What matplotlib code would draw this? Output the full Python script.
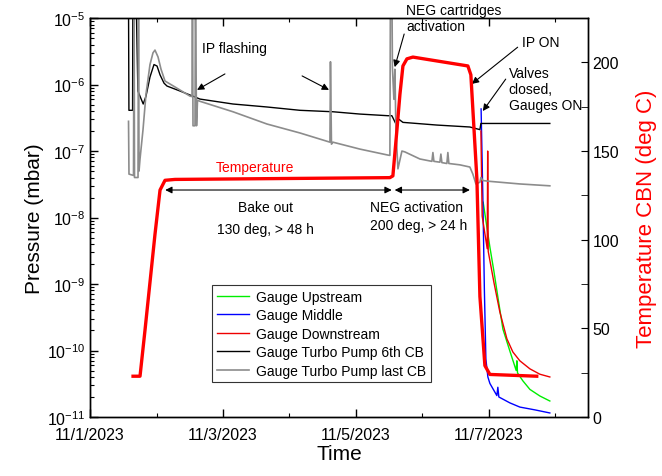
import matplotlib
matplotlib.use('Agg')
import matplotlib.pyplot as plt
from matplotlib.ticker import MultipleLocator, LogLocator, NullFormatter
import numpy as np

plt.rcParams['font.family'] = ['Liberation Sans', 'DejaVu Sans']
plt.rcParams['mathtext.default'] = 'regular'

# time in days since 11/1/2023 00:00
temp_t = [0.647, 0.752, 0.827, 0.902, 0.977, 1.053, 1.128, 1.278, 4.511, 4.556,
          4.617, 4.662, 4.707, 4.767, 4.857, 5.684, 5.729, 5.820, 5.865, 5.940,
          6.015, 6.720]
temp_v = [23, 23, 49, 76, 103, 128, 133.5, 134, 135, 136,
          162, 182, 198, 202, 203, 198, 193, 134, 68, 29,
          24, 23]

black_t = [0.578, 0.585, 0.640, 0.645, 0.690, 0.720, 0.800, 0.842, 0.902, 0.962,
           1.008, 1.053, 1.113, 1.158, 1.353, 1.579, 1.654, 2.150, 2.662, 3.158,
           3.654, 4.060, 4.481, 4.541, 4.602, 4.647, 4.707, 5.218, 5.714, 5.865,
           5.880, 6.917]
black_p = [3e-5, 4.1e-7, 4.1e-7, 3e-5, 3e-5, 8e-7, 5.1e-7, 6.7e-7, 1.3e-6, 2.0e-6,
           1.9e-6, 1.4e-6, 1.05e-6, 9.5e-7, 8.0e-7, 6.5e-7, 6.05e-7, 5.1e-7, 4.6e-7, 4.1e-7,
           3.9e-7, 3.6e-7, 3.4e-7, 3.4e-7, 2.55e-7, 3.0e-7, 2.7e-7, 2.46e-7, 2.3e-7, 2.1e-7,
           2.6e-7, 2.6e-7]

gray_t = [0.579, 0.586, 0.654, 0.662, 0.669, 0.722, 0.729, 0.737, 0.752, 0.797,
          0.842, 0.902, 0.947, 0.977, 1.023, 1.068, 1.128, 1.278, 1.504, 1.534,
          1.541, 1.549, 1.579, 1.586, 1.602, 1.617, 1.654, 2.150, 2.662, 3.158,
          3.609, 3.617, 3.632, 3.654, 4.060, 4.481, 4.511, 4.519, 4.541, 4.549,
          4.571, 4.586, 4.602, 4.632, 4.692, 4.737, 4.962, 5.143, 5.158, 5.173,
          5.263, 5.278, 5.293, 5.368, 5.383, 5.398, 5.564, 5.714, 5.759, 5.805,
          5.865, 5.880, 5.910, 6.015, 6.466, 6.917]
gray_p = [2.8e-7, 4.5e-8, 4.3e-8, 3e-5, 4.0e-8, 4.0e-8, 3e-5, 5e-8, 7.6e-8, 2.1e-7,
          7.2e-7, 2.0e-6, 3.0e-6, 3.3e-6, 2.6e-6, 1.7e-6, 1.13e-6, 9.2e-7, 6.7e-7, 6.6e-7,
          3e-5, 2.4e-7, 2.4e-7, 3e-5, 2.4e-7, 5.8e-7, 5.6e-7, 3.9e-7, 2.55e-7, 1.87e-7,
          1.36e-7, 2.2e-6, 1.27e-7, 1.36e-7, 1.07e-7, 8.7e-8, 8.6e-8, 3e-5, 3e-5, 1.8e-6,
          6e-7, 1.7e-6, 2.0e-7, 5.4e-8, 1.0e-7, 9.7e-8, 7.6e-8, 7.0e-8, 9.5e-8, 7.0e-8,
          6.8e-8, 9.0e-8, 6.7e-8, 6.5e-8, 9.5e-8, 6.5e-8, 6.2e-8, 5.75e-8, 4.5e-8, 3.2e-8,
          3.4e-8, 4.0e-8, 3.6e-8, 3.5e-8, 3.2e-8, 3.0e-8]

up_t = [5.914, 5.970, 6.015, 6.075, 6.135, 6.211, 6.316, 6.411, 6.421, 6.431,
        6.511, 6.617, 6.767, 6.917]
up_p = [1.7e-8, 7.2e-9, 3.6e-9, 1.57e-9, 6.4e-10, 2.1e-10, 9.8e-11, 5.0e-11, 7.0e-11, 4.6e-11,
        3.5e-11, 2.6e-11, 2.07e-11, 1.74e-11]

mid_t = [5.883, 5.910, 5.932, 5.955, 5.985, 6.015, 6.120, 6.135, 6.150, 6.316,
         6.466, 6.692, 6.917]
mid_p = [4.3e-7, 1.9e-8, 8.5e-10, 7.4e-11, 4.0e-11, 3.2e-11, 2.1e-11, 2.8e-11, 2.0e-11, 1.63e-11,
         1.41e-11, 1.28e-11, 1.15e-11]

down_t = [5.880, 5.899, 5.975, 5.982, 5.990, 6.075, 6.165, 6.271, 6.361, 6.466,
          6.617, 6.767, 6.917]
down_p = [2.0e-7, 1.05e-8, 3.4e-9, 1.0e-7, 3.1e-9, 1.07e-9, 3.8e-10, 1.5e-10, 9.5e-11, 7e-11,
          5.3e-11, 4.4e-11, 4.0e-11]

xtick_pos = [0, 2, 4, 6]
xtick_labels = ['11/1/2023', '11/3/2023', '11/5/2023', '11/7/2023']

fig = plt.figure(figsize=(6.62, 4.77), dpi=100)
ax = fig.add_axes([0.136, 0.1237, 0.752, 0.8363])

ax.plot(up_t, up_p, color='#00ee00', lw=1.0, label='Gauge Upstream')
ax.plot(mid_t, mid_p, color='#0000ff', lw=1.0, label='Gauge Middle')
ax.plot(down_t, down_p, color='#ee0000', lw=1.0, label='Gauge Downstream')
ax.plot(black_t, black_p, color='black', lw=1.0, label='Gauge Turbo Pump 6th CB')
ax.plot(gray_t, gray_p, color='#8c8c8c', lw=1.2, label='Gauge Turbo Pump last CB')

ax.set_yscale('log')
ax.set_ylim(1e-11, 1e-5)
ax.set_xlim(0, 7.489)
ax.set_xticks(xtick_pos)
ax.set_xticklabels(xtick_labels)
ax.xaxis.set_minor_locator(MultipleLocator(1))
ax.yaxis.set_major_locator(LogLocator(base=10, numticks=20))
ax.yaxis.set_minor_locator(LogLocator(base=10, subs=np.arange(2, 10), numticks=20))
ax.yaxis.set_minor_formatter(NullFormatter())
ax.tick_params(axis='both', which='both', direction='in', labelsize=11.5)
ax.tick_params(axis='x', which='both', top=True)
ax.tick_params(axis='x', which='major', pad=7)
ax.tick_params(which='major', length=6, width=1)
ax.tick_params(which='minor', length=3, width=0.8)
ax.set_xlabel('Time', fontsize=15, labelpad=2)
ax.set_ylabel('Pressure (mbar)', fontsize=15, labelpad=2)

leg = ax.legend(loc='upper left', bbox_to_anchor=(0.245, 0.331), fontsize=10,
                fancybox=False, edgecolor='#333333', framealpha=1,
                handlelength=2.3, handletextpad=0.5, labelspacing=0.32,
                borderpad=0.35, borderaxespad=0)
leg.get_frame().set_linewidth(0.8)

ax2 = ax.twinx()
ax2.plot(temp_t, temp_v, color='#ff0000', lw=2.4)
ax2.set_ylim(0, 225)
ax2.yaxis.set_major_locator(MultipleLocator(50))
ax2.yaxis.set_minor_locator(MultipleLocator(25))
ax2.tick_params(axis='y', which='both', direction='in', length=5, labelsize=11.5)
ax2.set_ylabel('Temperature CBN (deg C)', fontsize=16, color='#ff0000', labelpad=12)

for a in [ax, ax2]:
    for spine in a.spines.values():
        spine.set_linewidth(1)

arrow = dict(arrowstyle='-|>', color='black', lw=0.8, mutation_scale=10, shrinkA=0, shrinkB=0)
tr = ax.transAxes

ax.text(0.291, 0.925, 'IP flashing', transform=tr, fontsize=10, ha='center', va='center')
ax.annotate('', xy=(0.215, 0.820), xytext=(0.271, 0.860), xycoords=tr, textcoords=tr, arrowprops=arrow)
ax.annotate('', xy=(0.480, 0.820), xytext=(0.426, 0.855), xycoords=tr, textcoords=tr, arrowprops=arrow)

ax.text(0.635, 1.0, 'NEG cartridges\nactivation', transform=tr, fontsize=10,
        ha='left', va='center', linespacing=1.15)
ax.annotate('', xy=(0.612, 0.877), xytext=(0.631, 0.960), xycoords=tr, textcoords=tr, arrowprops=arrow)

ax.text(0.867, 0.940, 'IP ON', transform=tr, fontsize=10, ha='left', va='center')
ax.annotate('', xy=(0.767, 0.835), xytext=(0.859, 0.927), xycoords=tr, textcoords=tr, arrowprops=arrow)

ax.text(0.841, 0.822, 'Valves\nclosed,\nGauges ON', transform=tr, fontsize=10,
        ha='left', va='center', linespacing=1.2)
ax.annotate('', xy=(0.789, 0.767), xytext=(0.835, 0.847), xycoords=tr, textcoords=tr, arrowprops=arrow)

ax.text(0.331, 0.627, 'Temperature', transform=tr, fontsize=10, color='#ff0000', ha='center', va='center')

darrow = dict(arrowstyle='<|-|>', color='black', lw=0.8, mutation_scale=10, shrinkA=0, shrinkB=0)
ax.annotate('', xy=(0.151, 0.569), xytext=(0.606, 0.569), xycoords=tr, textcoords=tr, arrowprops=darrow)
ax.annotate('', xy=(0.612, 0.569), xytext=(0.763, 0.569), xycoords=tr, textcoords=tr, arrowprops=darrow)

ax.text(0.353, 0.526, 'Bake out', transform=tr, fontsize=10, ha='center', va='center')
ax.text(0.353, 0.471, '130 deg, > 48 h', transform=tr, fontsize=10, ha='center', va='center')
ax.text(0.562, 0.526, 'NEG activation', transform=tr, fontsize=10, ha='left', va='center')
ax.text(0.562, 0.481, '200 deg, > 24 h', transform=tr, fontsize=10, ha='left', va='center')

plt.savefig('out.png', dpi=100)
